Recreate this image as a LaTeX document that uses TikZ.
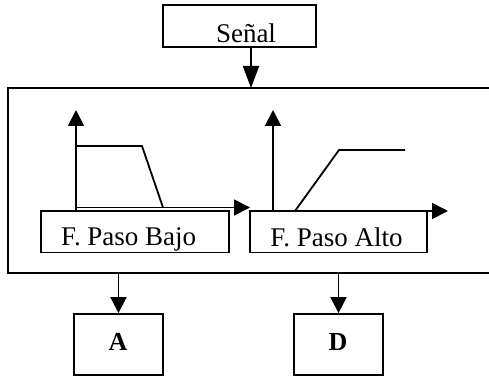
\documentclass[tikz,border=0pt]{standalone}
\usepackage{fontspec}
\setmainfont{Liberation Serif}
\usetikzlibrary{arrows.meta}
\begin{document}
\begin{tikzpicture}[x=1pt,y=-1pt,
  box/.style={draw,line width=1.8pt,inner sep=0pt,rectangle},
  lbl/.style={font=\fontsize{27}{29}\selectfont,inner sep=0pt,anchor=base},
  bold/.style={font=\fontsize{26}{28}\selectfont\bfseries,inner sep=0pt,anchor=base},
  arr/.style={line width=1.8pt,-{Triangle[length=16pt,width=16pt]}},
  curve/.style={line width=1.8pt}]
\useasboundingbox (0,0) rectangle (489,379);

% input block
\node[box,minimum width=153pt,minimum height=42pt] (sig) at (239.5,26) {};
\node[lbl] (sigt) at (246,43) {Señal};

% enclosing filter block (its right side runs off the page)
\draw[line width=2pt] (494,88) -- (8,88) -- (8,273) -- (494,273);
\coordinate (in) at (251,88);
\draw[line width=1.8pt,-{Triangle[length=22pt,width=16pt]}] (sig.south -| in) -- (in);

% low-pass response
\coordinate (o1) at (76,212);
\coordinate (y1) at (76,110);
\coordinate (x1) at (250,207.5);
\draw[arr] (o1) -- (y1);
\draw[arr] (76,207.5) -- (x1);
\draw[curve] (76,146) -- (142,146) -- (163,207.5);
\node[box,minimum width=188pt,minimum height=41.5pt] (lp) at (135,231.8) {};
\node[lbl] (lpt) at (128.7,245) {F. Paso Bajo};

% high-pass response
\coordinate (o2) at (273,211);
\coordinate (y2) at (273,110);
\coordinate (x2) at (448,211);
\draw[arr] (o2) -- (y2);
\draw[arr] (o2) -- (x2);
\draw[curve] (295,211) -- (339,150) -- (405,150);
\node[box,minimum width=177pt,minimum height=41.5pt] (hp) at (338.5,231.8) {};
\node[lbl] (hpt) at (336.5,246) {F. Paso Alto};

% outputs
\node[box,minimum width=89pt,minimum height=61pt] (a) at (118.5,344.5) {};
\node[bold] (at) at (118,350) {A};
\node[box,minimum width=89pt,minimum height=61pt] (d) at (338.5,344.5) {};
\node[bold] (dt) at (338,350) {D};
\coordinate (oa) at (118.5,273);
\coordinate (od) at (338.5,273);
\draw[arr] (oa) -- (a.north);
\draw[arr] (od) -- (d.north);
\end{tikzpicture}
\end{document}
